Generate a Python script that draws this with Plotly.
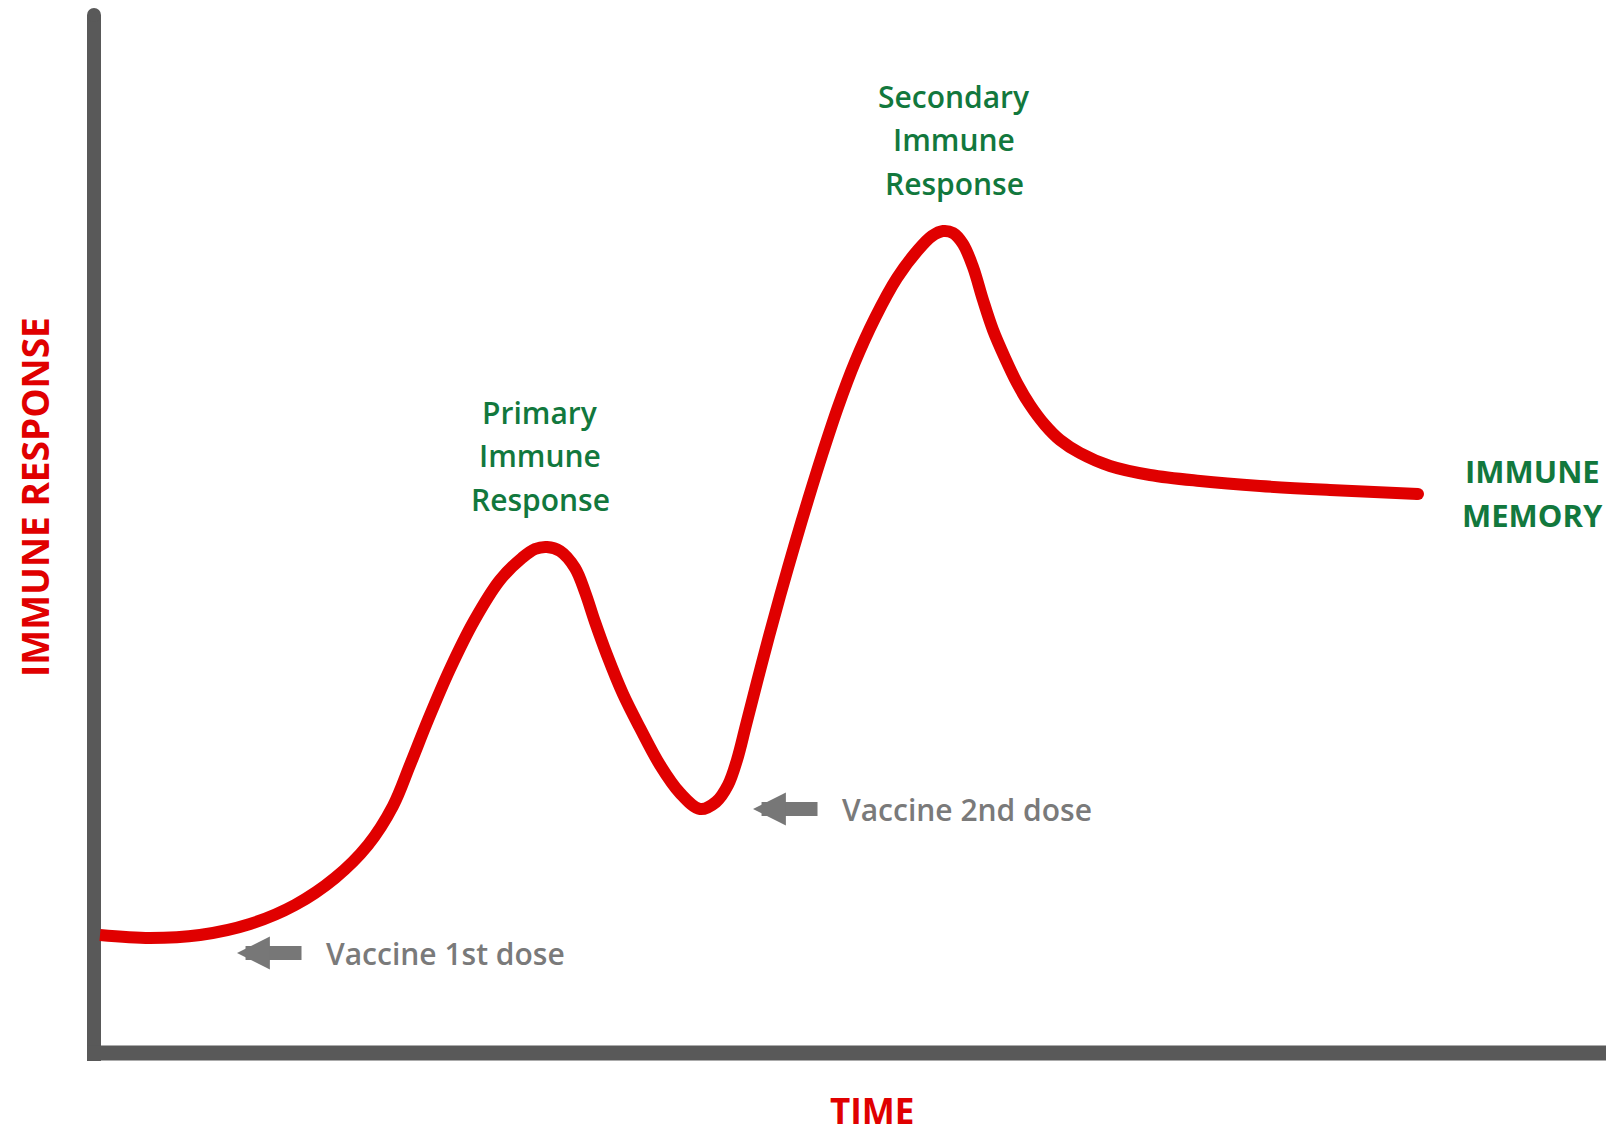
import plotly.graph_objects as go

# Curve data (time units, response units)
time = [6, 56, 106, 156, 201, 241, 274, 299, 316, 334, 356, 380, 406, 428, 441, 453,
        466, 481, 491, 501, 513, 529, 546, 566, 586, 606, 622, 634, 643, 652, 663,
        674, 686, 700, 714, 729, 744, 761, 781, 803, 824, 838, 849, 859, 869, 879,
        889, 899, 911, 923, 936, 951, 966, 986, 1016, 1056, 1106, 1166, 1236, 1324]
response = [118, 115, 118, 129, 148, 175, 208, 247, 288, 333, 384, 432, 473, 495, 504, 506,
            502, 485, 461, 431, 398, 359, 325, 288, 260, 244, 251, 268, 293, 328, 371,
            413, 457, 506, 553, 601, 646, 691, 735, 775, 803, 817, 822, 820, 809, 786,
            753, 723, 695, 670, 648, 628, 613, 600, 587, 578, 572, 567, 563, 559]

# Dose times / levels (arrow tips) and labels
dose_time = [143, 659]
dose_level = [100, 244]
dose_labels = ["Vaccine 1st dose", "Vaccine 2nd dose"]

primary_lines = ["Primary", "Immune", "Response"]
secondary_lines = ["Secondary", "Immune", "Response"]
memory_lines = ["IMMUNE", "MEMORY"]

RED = "#E00000"
GREEN = "#12783D"
GRAY_TXT = "#7A7A7A"
GRAY_AX = "#595959"
FONT = "Open Sans"

fig = go.Figure()
fig.add_trace(go.Scatter(x=time, y=response, mode="lines",
                         line=dict(color=RED, width=12, shape="spline", smoothing=1.0),
                         hoverinfo="skip", showlegend=False))
fig.add_trace(go.Scatter(x=time[-1:], y=response[-1:], mode="markers",
                         marker=dict(color=RED, size=12, line=dict(width=0)),
                         hoverinfo="skip", showlegend=False))

# Axes drawn as thick lines
fig.add_shape(type="line", x0=0, x1=0, y0=-8, y1=1038, line=dict(color=GRAY_AX, width=14), layer="below")
fig.add_shape(type="circle", xref="x", yref="y", xsizemode="pixel", ysizemode="pixel",
              xanchor=0, yanchor=1038, x0=-7, x1=7, y0=-7, y1=7,
              fillcolor=GRAY_AX, line=dict(width=0), layer="below")
fig.add_shape(type="line", x0=-7, x1=1540, y0=0, y1=0, line=dict(color=GRAY_AX, width=15), layer="below")

ann = []
def txt(x, y, s, color, size=30, xanchor="center", angle=0, weight=600):
    ann.append(dict(x=x, y=y, xref="x", yref="y", text=s, showarrow=False,
                    xanchor=xanchor, yanchor="middle", textangle=angle,
                    font=dict(family=FONT, size=size, color=color, weight=weight)))

for i, s in enumerate(primary_lines):
    txt(446, 641 - 43.5 * i, s, GREEN)
for i, s in enumerate(secondary_lines):
    txt(860, 957 - 43.5 * i, s, GREEN)
for i, s in enumerate(memory_lines):
    txt(1438, 582 - 44 * i, s, GREEN, size=31, weight=700)

for t, lv, lab in zip(dose_time, dose_level, dose_labels):
    ann.append(dict(x=t, y=lv, xref="x", yref="y", ax=66, ay=0, axref="pixel", ayref="pixel",
                    text="", showarrow=True, arrowhead=2, arrowsize=0.47, arrowwidth=14,
                    arrowcolor="#777777", standoff=0, startstandoff=0))
    txt(t + 87, lv, lab, GRAY_TXT, size=30, xanchor="left")

txt(778, -57, "TIME", RED, size=35, weight=700)
txt(-60, 556, "IMMUNE RESPONSE", RED, size=37, angle=-90, weight=700)

fig.update_layout(
    width=1614, height=1135,
    margin=dict(l=0, r=0, t=0, b=0),
    paper_bgcolor="white", plot_bgcolor="white",
    xaxis=dict(range=[-86, 1528], visible=False, fixedrange=True),
    yaxis=dict(range=[-90, 1045], visible=False, fixedrange=True),
    annotations=ann,
    showlegend=False,
)

fig.write_html("out.html")
